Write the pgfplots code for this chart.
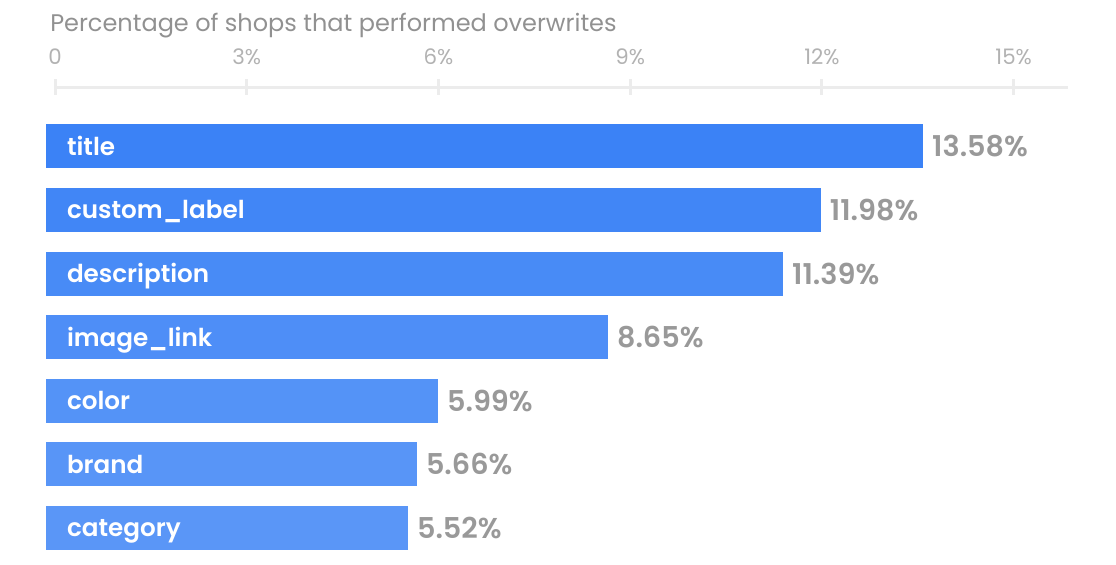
\documentclass[border=0pt]{standalone}
\usepackage{pgfplots}
\pgfplotsset{compat=1.18}
\usepackage{fontspec}
\setmainfont{Poppins}
\newfontfamily\semibold{Poppins SemiBold}
\definecolor{barA}{RGB}{59,130,246}
\definecolor{barB}{RGB}{65,134,246}
\definecolor{barC}{RGB}{72,139,246}
\definecolor{barD}{RGB}{78,142,247}
\definecolor{barE}{RGB}{84,147,247}
\definecolor{barF}{RGB}{88,149,247}
\definecolor{barG}{RGB}{90,150,247}
\definecolor{axisgray}{RGB}{236,236,236}
\definecolor{tickgray}{RGB}{178,178,178}
\definecolor{valgray}{RGB}{153,153,153}
\definecolor{titlegray}{RGB}{145,145,145}
\begin{document}
\begin{tikzpicture}
\useasboundingbox (0,0) rectangle (837pt,423pt);
\begin{axis}[
at={(41.25pt,0pt)}, anchor=south west,
width=759.75pt, height=357.75pt, scale only axis,
xmin=0, xmax=15.85, ymin=-0.565, ymax=6.935,
axis x line*=top, axis y line=none,
x axis line style={draw=axisgray, line width=2.25pt},
xtick={0,3,...,15},
xticklabels={0,3\%,6\%,9\%,12\%,15\%},
tick align=center, major tick length=12pt,
xtick style={draw=axisgray, line width=2.25pt},
xticklabel style={text=tickgray, font=\fontsize{16}{18}\selectfont, yshift=7.5pt},
ytick=\empty,
xbar, bar width=33pt, bar shift=0pt,
clip=false,
point meta=x,
nodes near coords={\pgfmathprintnumber[fixed,fixed zerofill,precision=2,assume math mode=true]{\pgfplotspointmeta}\%},
every node near coord/.append style={anchor=west, inner sep=0pt, xshift=6.75pt, text=valgray, font=\fontsize{21.5}{24}\semibold},
]
\addplot[fill=barA, draw=none, preaction={fill=barA, transform canvas={xshift=-6.75pt}}] coordinates {(13.58,6)};
\addplot[fill=barB, draw=none, preaction={fill=barB, transform canvas={xshift=-6.75pt}}] coordinates {(11.98,5)};
\addplot[fill=barC, draw=none, preaction={fill=barC, transform canvas={xshift=-6.75pt}}] coordinates {(11.39,4)};
\addplot[fill=barD, draw=none, preaction={fill=barD, transform canvas={xshift=-6.75pt}}] coordinates {(8.65,3)};
\addplot[fill=barE, draw=none, preaction={fill=barE, transform canvas={xshift=-6.75pt}}] coordinates {(5.99,2)};
\addplot[fill=barF, draw=none, preaction={fill=barF, transform canvas={xshift=-6.75pt}}] coordinates {(5.66,1)};
\addplot[fill=barG, draw=none, preaction={fill=barG, transform canvas={xshift=-6.75pt}}] coordinates {(5.52,0)};
\begin{scope}[every node/.style={anchor=base west, inner sep=0pt, xshift=8.8pt, yshift=-6.6pt, text=white, font=\fontsize{18.5}{22}\semibold}]
\node at (axis cs:0,6) {title};
\node at (axis cs:0,5) {custom\_label};
\node at (axis cs:0,4) {description};
\node at (axis cs:0,3) {image\_link};
\node at (axis cs:0,2) {color};
\node at (axis cs:0,1) {brand};
\node at (axis cs:0,0) {category};
\end{scope}
\end{axis}
\node[anchor=base west, inner sep=0pt, text=titlegray, font=\fontsize{18}{20}\selectfont] at (37.5pt,399.5pt) {Percentage of shops that performed overwrites};
\end{tikzpicture}
\end{document}
